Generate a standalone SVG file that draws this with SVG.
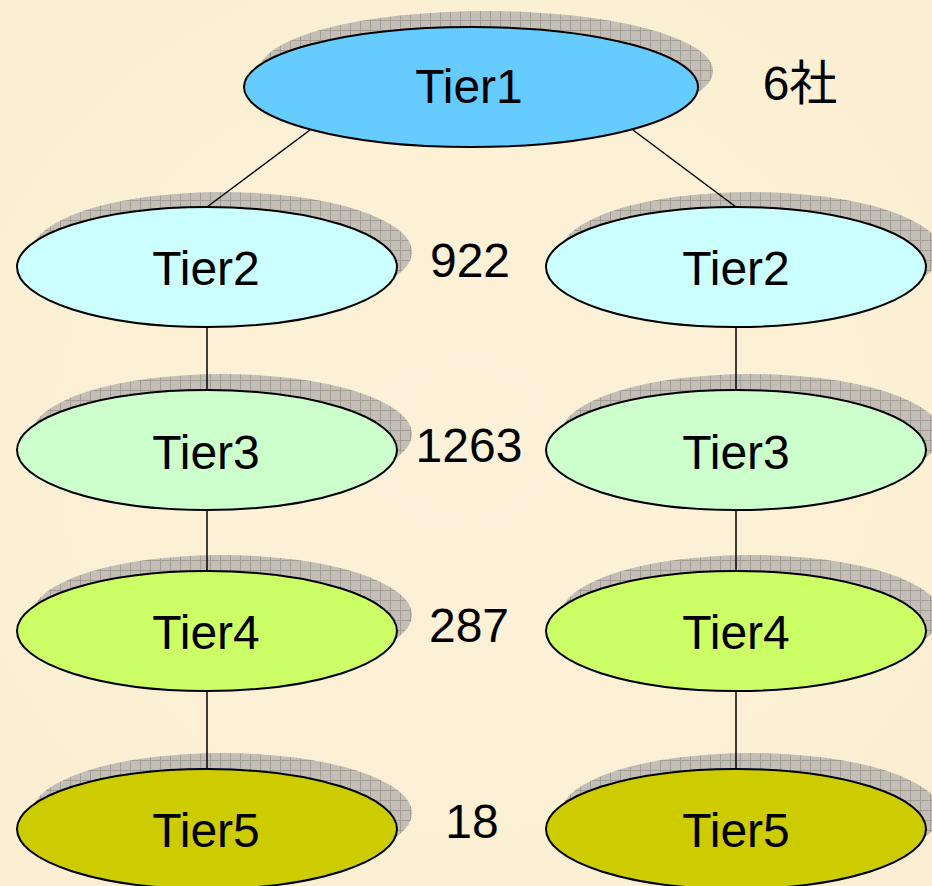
<svg xmlns="http://www.w3.org/2000/svg" width="932" height="886" viewBox="0 0 932 886">
  <defs>
    <pattern id="hatch" width="10" height="10" patternUnits="userSpaceOnUse">
      <rect width="10" height="10" fill="#c3bfb7"/>
      <path d="M0 0.5H10M0.5 0V10" stroke="#a29e96" stroke-width="1"/>
    </pattern>
    <radialGradient id="bgGlow" cx="0.5" cy="0.5" r="0.7">
      <stop offset="0" stop-color="#fdf2d9"/>
      <stop offset="1" stop-color="#fbeed2"/>
    </radialGradient>
  </defs>
  <style>
    .shadow { fill: url(#hatch); }
    .node { stroke: #000; stroke-width: 2; }
    .lbl { font-family: "Liberation Sans", Arial, "Noto Sans CJK JP", sans-serif; font-size: 48px; fill: #000; text-anchor: middle; }
    .conn line { stroke: #000; stroke-width: 1.5; }
    .t1 { fill: #66ccff; }
    .t2 { fill: #ccffff; }
    .t3 { fill: #ccffcc; }
    .t4 { fill: #ccff66; }
    .t5 { fill: #cccc00; }
  </style>
  <rect width="932" height="886" fill="url(#bgGlow)"/>

  <g id="shadows">
    <ellipse class="shadow" cx="486" cy="71" rx="227" ry="60"/>
    <ellipse class="shadow" cx="222" cy="252" rx="190" ry="60"/>
    <ellipse class="shadow" cx="751" cy="252" rx="190" ry="60"/>
    <ellipse class="shadow" cx="222" cy="434" rx="190" ry="60"/>
    <ellipse class="shadow" cx="751" cy="434" rx="190" ry="60"/>
    <ellipse class="shadow" cx="222" cy="615" rx="190" ry="60"/>
    <ellipse class="shadow" cx="751" cy="615" rx="190" ry="60"/>
    <ellipse class="shadow" cx="222" cy="813" rx="190" ry="60"/>
    <ellipse class="shadow" cx="751" cy="813" rx="190" ry="60"/>
  </g>

  <g id="connectors" class="conn">
    <line x1="310" y1="130" x2="207" y2="207"/>
    <line x1="633" y1="130" x2="736" y2="207"/>
    <line x1="207" y1="327" x2="207" y2="390"/>
    <line x1="207" y1="510" x2="207" y2="571"/>
    <line x1="207" y1="690" x2="207" y2="769"/>
    <line x1="736" y1="327" x2="736" y2="390"/>
    <line x1="736" y1="510" x2="736" y2="571"/>
    <line x1="736" y1="690" x2="736" y2="769"/>
  </g>

  <g id="tier1">
    <ellipse class="node t1" cx="471" cy="87" rx="227" ry="60"/>
    <text class="lbl" x="469" y="103">Tier1</text>
  </g>

  <g id="tier2-left">
    <ellipse class="node t2" cx="207" cy="267" rx="190" ry="60"/>
    <text class="lbl" x="206" y="285">Tier2</text>
  </g>
  <g id="tier2-right">
    <ellipse class="node t2" cx="736" cy="267" rx="190" ry="60"/>
    <text class="lbl" x="736" y="285">Tier2</text>
  </g>

  <g id="tier3-left">
    <ellipse class="node t3" cx="207" cy="450" rx="190" ry="60"/>
    <text class="lbl" x="206" y="469">Tier3</text>
  </g>
  <g id="tier3-right">
    <ellipse class="node t3" cx="736" cy="450" rx="190" ry="60"/>
    <text class="lbl" x="736" y="469">Tier3</text>
  </g>

  <g id="tier4-left">
    <ellipse class="node t4" cx="207" cy="631" rx="190" ry="60"/>
    <text class="lbl" x="206" y="649">Tier4</text>
  </g>
  <g id="tier4-right">
    <ellipse class="node t4" cx="736" cy="631" rx="190" ry="60"/>
    <text class="lbl" x="736" y="649">Tier4</text>
  </g>

  <g id="tier5-left">
    <ellipse class="node t5" cx="207" cy="829" rx="190" ry="60"/>
    <text class="lbl" x="206" y="847">Tier5</text>
  </g>
  <g id="tier5-right">
    <ellipse class="node t5" cx="736" cy="829" rx="190" ry="60"/>
    <text class="lbl" x="736" y="847">Tier5</text>
  </g>

  <g id="counts">
    <text class="lbl" x="800" y="100">6社</text>
    <text class="lbl" x="470" y="277">922</text>
    <text class="lbl" x="469" y="462">1263</text>
    <text class="lbl" x="469" y="642">287</text>
    <text class="lbl" x="472" y="838">18</text>
  </g>
</svg>
